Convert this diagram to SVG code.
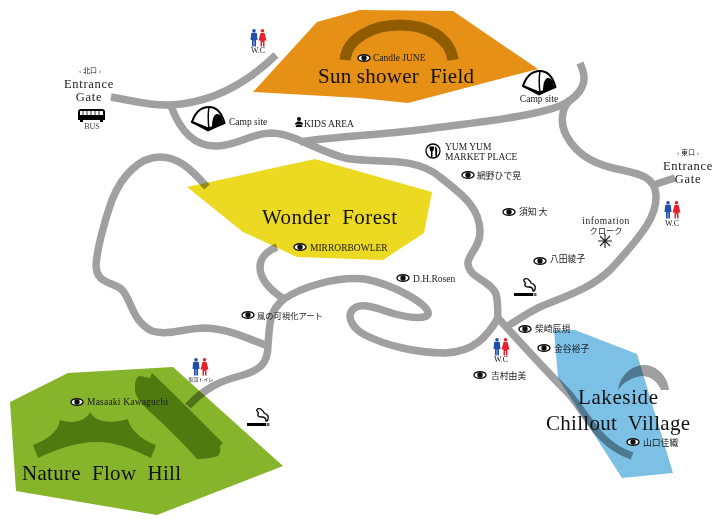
<svg xmlns="http://www.w3.org/2000/svg" xmlns:xlink="http://www.w3.org/1999/xlink" width="720" height="526" viewBox="0 0 720 526">
<style>
text{font-family:"Liberation Serif","Noto Sans CJK JP",serif;fill:#1a1a1a;font-size:9.5px}
.big{font-size:21px;fill:#111}
.gate{font-size:12.5px;letter-spacing:.7px;text-anchor:middle}
.sm{font-size:7px;text-anchor:middle}
.xs{font-size:5px;text-anchor:middle}
.wc{font-size:8px;text-anchor:middle}
.mid{text-anchor:middle}
.cj{font-size:8.8px}
.cj2{font-size:8.3px}
.road{fill:none;stroke:#a0a0a0;stroke-width:7.5}
.area{mix-blend-mode:multiply}
.dk{fill:#4f7a10}
.blue{fill:#1f4fa8}.red{fill:#e8202c}
</style>
<defs>
<g id="eye"><ellipse rx="6" ry="3.3" fill="#fff" stroke="#111" stroke-width="1.400"/><circle r="2.700" fill="#111"/></g>
<g id="people">
<g class="blue"><circle cx="4" cy="1.800" r="1.800"/><path d="M1.200 4C1.200 3.700 6.800 3.700 6.800 4L7.500 11H6V17.500H4.300V11.500H3.700V17.500H2V11H.5Z"/></g>
<g class="red"><circle cx="12.500" cy="1.800" r="1.800"/><path d="M10.500 4H14.500L16.500 11.500H14.500V17.500H13V13H12V17.500H10.500V11.500H8.500Z"/></g>
</g>
<g id="tent">
<path d="M1 16C4 7 10 1 18 1C26 1 31 8 33.500 17L18 23Z" fill="#fff" stroke="#000" stroke-width="2" stroke-linejoin="round"/>
<path d="M0 16L17 22L34 17L17 25Z" fill="#000" stroke="#000" stroke-linejoin="round"/>
<path d="M18 1C17 7 17 15 18 23" fill="none" stroke="#000" stroke-width="1.500"/>
<path d="M21 21C21 13 23 8 26 8C30 8 32 13 32 17Z" fill="#000"/>
</g>
<g id="smoke">
<path d="M0 15H19V18H0Z" fill="#000"/><path d="M19.500 15H22.500V18H19.500Z" fill="#666"/>
<path d="M10 3C9 1 12 0 14 1C15 3 17 3 17 5C20 6 22 8 21 11C21 13 20 13 19 13C19 10 17 9 15 9C12 9 10 8 11 6C12 5 11 4 10 3Z" fill="#fff" stroke="#000" stroke-width="1.300"/>
</g>
</defs>
<g id="connectors">
<path class="road" d="M111 97C135 101 150 106 170 105C210 103 245 85 276 55"/>
<path class="road" d="M171 106C178 125 190 146 215 146C238 146 250 133 272 133C295 134 315 150 345 158C375 164 415 155 440 177C458 192 480 205 480 232C480 248 467 255 468 264C469 278 490 280 496 294C499 305 497 312 498 318"/>
<path class="road" d="M498 318C488 335 475 352 445 353C415 353 385 345 365 335C352 328 348 318 351 312C358 300 375 308 395 314C410 318 430 320 428 312C425 303 395 285 365 279C335 276 300 288 284 299C268 312 270 325 268 345C268 362 262 370 240 376C220 381 205 388 188 406"/>
<path class="road" d="M284 299C270 290 260 280 260 267C260 258 267 251 277 247"/>
<path class="road" d="M207 187C190 168 178 157 160 157C140 157 122 175 112 200C104 222 97 250 96 265C96 282 110 282 120 288C132 297 130 320 152 331C168 336 185 328 205 328C228 329 245 337 265 345"/>
<path class="road" d="M300 142C325 137 370 136 427 129C480 122 530 117 560 106C580 97 584 85 584 78C584 72 582 68 580 63"/>
<path class="road" d="M570 100C560 110 561 125 566 135C578 158 600 166 622 170C640 174 655 177 656 195C657 215 645 232 611 269C590 290 560 298 540 307C525 314 515 322 506 327"/>
<path class="road" d="M656 184L675 178"/>
<path class="road" d="M498 318C520 342 545 370 570 395C590 420 600 445 632 456"/>
<path d="M618 390C620 375 632 365 645 365C658 366 668 377 669 390H661C657 381 650 376 642 376C632 377 624 382 618 390Z" fill="#a0a0a0"/>
</g>
<g id="sun-shower-field">
<polygon class="area" fill="#e69016" points="253,92 317,22 360,10 453,11 538,69 408,103 360,98"/>
<path d="M345 60C347 38 373 25 400 25C428 25 450 38 453 60" fill="none" stroke="#8f5c00" stroke-width="11"/>
<use xlink:href="#eye" href="#eye" x="364" y="58"/>
<text x="373" y="61">Candle JUNE</text>
<text class="big" x="318" y="83" textLength="156" xml:space="preserve">Sun shower  Field</text>
</g>
<g id="wonder-forest">
<polygon class="area" fill="#ecda22" points="187,187 315,159 432,192 424,233 383,260 297,257 243,232"/>
<text class="big" x="262" y="224" textLength="135" xml:space="preserve">Wonder  Forest</text>
<use xlink:href="#eye" href="#eye" x="300" y="247"/>
<text x="310" y="251">MIRRORBOWLER</text>
</g>
<g id="nature-flow-hill">
<polygon class="area" fill="#86b52c" points="10,402 68,373 173,367 283,466 157,515 16,491"/>
<path class="dk" d="M33 445C48 439 58 432 60 420C72 424 85 422 90 412C95 422 110 424 128 419C130 430 142 440 156 445L151 458C130 448 115 442 97 442C75 442 55 450 38 458Z"/>
<path class="dk" d="M152 373C165 385 200 420 223 443L220 446C221 452 219 455 218 456C208 459 200 459 197 459C185 445 165 425 150 412C140 402 134 395 135 388C135 380 137 376 140 376L150 378Z"/>
<use xlink:href="#eye" href="#eye" x="77" y="402"/>
<text x="87" y="405" letter-spacing=".2">Masaaki Kawaguchi</text>
<text class="big" x="22" y="480" textLength="159" xml:space="preserve">Nature  Flow  Hill</text>
</g>
<g id="lakeside-chillout-village">
<polygon class="area" fill="#7cc0e6" points="554,330 575,330 637,354 673,473 622,478 558,378"/>
<text class="big" x="578" y="404" textLength="80">Lakeside</text>
<text class="big" x="546" y="430" textLength="144" xml:space="preserve">Chillout  Village</text>
<use xlink:href="#eye" href="#eye" x="633" y="442"/>
<text class="cj" x="643" y="446">山口佳織</text>
</g>
<g id="north-gate">
<text class="sm" x="90" y="73">‹ 北口 ›</text>
<text class="gate" x="89" y="88">Entrance</text>
<text class="gate" x="89" y="100.500">Gate</text>
<path d="M78 112C78 110 79 109 81 109H102C104 109 105 110 105 112V120H103V122H100V120H83V122H80V120H78Z" fill="#000"/>
<path d="M80 111H103V115H80Z" fill="#fff"/>
<path d="M83 111V115M87 111V115M91 111V115M95 111V115M99 111V115" stroke="#000" stroke-width=".8"/>
<text class="wc" x="92" y="129" style="fill:#444">BUS</text>
</g>
<g id="wc-north"><use xlink:href="#people" href="#people" x="250" y="29"/><text class="wc" x="258" y="53">W.C</text></g>
<g id="camp-west"><use xlink:href="#tent" href="#tent" x="191" y="106"/><text x="229" y="125">Camp site</text></g>
<g id="camp-east"><use xlink:href="#tent" href="#tent" x="522" y="70"/><text class="mid" x="539" y="102">Camp site</text></g>
<g id="kids-area"><circle cx="299" cy="119" r="2" fill="#000"/><path d="M297.500 121.500H300.500L303 123.500V124.500H295V123.500ZM296.500 125H301.500L302.500 127H295.500Z" fill="#000"/><text x="304" y="126.500">KIDS AREA</text></g>
<g id="market">
<circle cx="433" cy="151" r="7" fill="#fff" stroke="#000" stroke-width="1.300"/>
<path d="M429.500 146.500C429.500 150 430 151 431 151.500V157H432.500V151.500C433.500 151 434 150 434 146.500Z" fill="#000"/>
<path d="M435 146.500C437.500 147 437.500 152 437 153V157H435.500Z" fill="#000"/>
<text x="445" y="150">YUM YUM</text><text x="445" y="160">MARKET PLACE</text>
</g>
<g id="artist-amino"><use xlink:href="#eye" href="#eye" x="468" y="175"/><text class="cj" x="477" y="179">網野ひで晃</text></g>
<g id="artist-suchi"><use xlink:href="#eye" href="#eye" x="509" y="212"/><text class="cj" x="519" y="215">須知 大</text></g>
<g id="artist-hatta"><use xlink:href="#eye" href="#eye" x="540" y="261"/><text class="cj" x="550" y="262">八田綾子</text></g>
<g id="information">
<text class="mid" x="606" y="224" letter-spacing=".6">infomation</text><text class="mid cj2" x="606" y="233.500">クローク</text>
<path d="M605 234V248M598 241H612M600 236L610 246M610 236L600 246" stroke="#222" stroke-width="1.100"/>
</g>
<g id="east-gate">
<text class="sm" x="688" y="155">‹ 東口 ›</text>
<text class="gate" x="688" y="170">Entrance</text>
<text class="gate" x="688" y="182.500">Gate</text>
</g>
<g id="wc-east"><use xlink:href="#people" href="#people" x="664" y="201"/><text class="wc" x="672" y="226">W.C</text></g>
<g id="smoking-east"><use xlink:href="#smoke" href="#smoke" x="514" y="278"/></g>
<g id="smoking-west"><use xlink:href="#smoke" href="#smoke" x="247" y="408"/></g>
<g id="artist-dh"><use xlink:href="#eye" href="#eye" x="403" y="278"/><text x="413" y="282">D.H.Rosen</text></g>
<g id="artist-wind"><use xlink:href="#eye" href="#eye" x="248" y="315"/><text class="cj2" x="257" y="319">風の可視化アート</text></g>
<g id="artist-shibasaki"><use xlink:href="#eye" href="#eye" x="525" y="329"/><text class="cj" x="535" y="332">柴崎辰規</text></g>
<g id="artist-kanaya"><use xlink:href="#eye" href="#eye" x="544" y="348"/><text class="cj" x="554" y="352">金谷裕子</text></g>
<g id="artist-yoshimura"><use xlink:href="#eye" href="#eye" x="480" y="375"/><text class="cj" x="491" y="379">吉村由美</text></g>
<g id="wc-lake"><use xlink:href="#people" href="#people" x="493" y="338"/><text class="wc" x="501" y="362">W.C</text></g>
<g id="wc-temp"><use xlink:href="#people" href="#people" x="192" y="358"/><text class="xs" x="201" y="381">仮設トイレ</text></g>
</svg>
